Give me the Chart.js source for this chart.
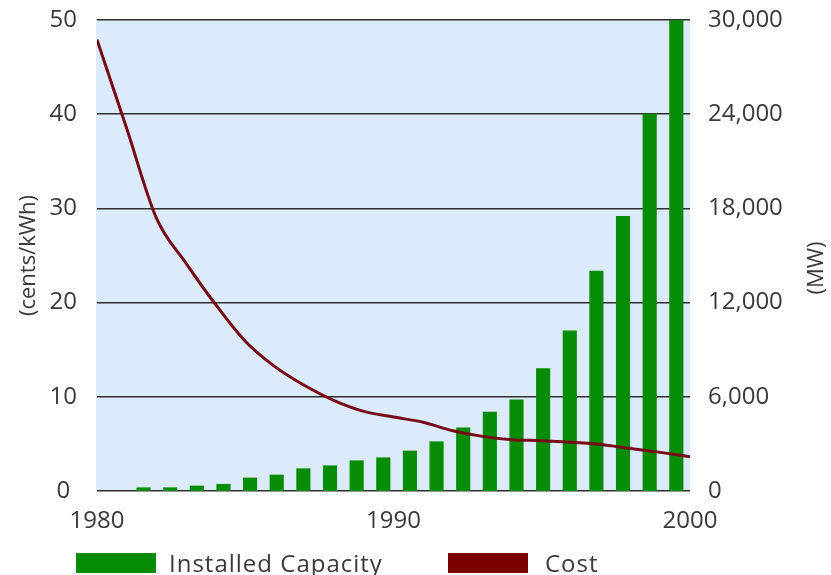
<!DOCTYPE html>
<html>
<head>
<meta charset="utf-8">
<script src="https://cdn.jsdelivr.net/npm/chart.js@4.4.0/dist/chart.umd.min.js"></script>
<style>
  html, body { margin: 0; padding: 0; background: #ffffff; }
  #wrap { width: 831px; height: 575px; }
</style>
</head>
<body>
<div id="wrap"><canvas id="chart" width="831" height="575"></canvas></div>
<script>
// Wind energy: cost of electricity (cents/kWh) vs. installed capacity (MW), 1980-2000
const costYears = [1980, 1981, 1982, 1983, 1984, 1985, 1986, 1987, 1988, 1989, 1990,
                   1991, 1992, 1993, 1994, 1995, 1996, 1997, 1998, 1999, 2000];
const costCents = [47.9, 38.5, 29.0, 24.2, 19.8, 15.9, 13.2, 11.2, 9.6, 8.45, 7.85,
                   7.3, 6.4, 5.8, 5.45, 5.34, 5.17, 4.93, 4.5, 4.1, 3.64];

const capacityYears = [1980, 1981, 1982, 1983, 1984, 1985, 1986, 1987, 1988, 1989, 1990,
                       1991, 1992, 1993, 1994, 1995, 1996, 1997, 1998, 1999, 2000];
const capacityMW = [210, 210, 320, 430, 830, 1020, 1420, 1610, 1930, 2120, 2550,
                    3140, 4030, 5030, 5800, 7800, 10200, 14000, 17500, 24000, 30000];

const yearTicks = [1980, 1990, 2000];
const costTicks = [0, 10, 20, 30, 40, 50];
const capacityTicks = [0, 6000, 12000, 18000, 24000, 30000];

const seriesLabels = ['Installed Capacity', 'Cost'];

const FONT = "'Open Sans', 'DejaVu Sans', sans-serif";
const TEXT = '#3a3a3a';

// Plot background, right-hand axis title and the legend row
const chartDecor = {
  id: 'chartDecor',
  beforeDraw(chart, args, opts) {
    const { ctx, chartArea: a } = chart;
    ctx.save();
    ctx.fillStyle = opts.plotColor;
    ctx.fillRect(a.left - 1, a.top, a.right - a.left + 1, a.bottom - a.top);
    ctx.restore();
  },
  afterDraw(chart, args, opts) {
    const { ctx } = chart;
    ctx.save();
    ctx.fillStyle = TEXT;
    ctx.font = opts.titleFont;
    ctx.textAlign = 'center';
    ctx.textBaseline = 'middle';
    ctx.translate(opts.rightTitleX, opts.rightTitleY);
    ctx.rotate(-Math.PI / 2);
    ctx.fillText(opts.rightTitle, 0, 0);
    ctx.restore();

    ctx.save();
    ctx.font = opts.legendFont;
    ctx.textAlign = 'left';
    ctx.textBaseline = 'alphabetic';
    chart.data.datasets.forEach((ds, i) => {
      const x = opts.legendX[i];
      ctx.fillStyle = ds.legendColor;
      ctx.fillRect(x, opts.legendTop, opts.boxWidth, opts.boxHeight);
      ctx.fillStyle = TEXT;
      if ('letterSpacing' in ctx) ctx.letterSpacing = '1px';
      ctx.fillText(ds.label, x + opts.boxWidth + opts.textGap[i], opts.legendBaseline);
    });
    ctx.restore();
  }
};

// Fixed axis band widths; tick labels may overhang the plot edges
const fitVertical = width => s => {
  s.width = width;
  s.paddingTop = 0;
  s.paddingBottom = 0;
};

new Chart(document.getElementById('chart'), {
  data: {
    datasets: [
      {
        type: 'bar',
        label: seriesLabels[0],
        data: capacityYears.map((yr, i) => ({ x: yr, y: capacityMW[i] })),
        xAxisID: 'xBar',
        yAxisID: 'yMW',
        backgroundColor: '#078c07',
        legendColor: '#078c07',
        barThickness: 13.5,
        borderWidth: 0,
        order: 1
      },
      {
        type: 'line',
        label: seriesLabels[1],
        data: costYears.map((yr, i) => ({ x: yr, y: costCents[i] })),
        xAxisID: 'x',
        yAxisID: 'y',
        borderColor: '#780a18',
        legendColor: '#7b0000',
        borderWidth: 3,
        pointRadius: 0,
        cubicInterpolationMode: 'monotone',
        fill: false,
        order: 0
      }
    ]
  },
  options: {
    responsive: false,
    animation: false,
    devicePixelRatio: 1,
    layout: { padding: { top: 20, bottom: 40, left: 0, right: 0 } },
    scales: {
      x: {
        type: 'linear',
        position: 'bottom',
        offset: false,
        min: 1980,
        max: 2000,
        afterBuildTicks: s => { s.ticks = yearTicks.map(v => ({ value: v })); },
        afterFit: s => { s.height = 44; s.paddingLeft = 0; s.paddingRight = 0; },
        grid: { display: false, drawTicks: false },
        border: { display: false },
        ticks: {
          padding: 16,
          color: TEXT,
          font: { family: FONT, size: 24 },
          maxRotation: 0,
          callback: v => String(v)
        }
      },
      xBar: {
        type: 'linear',
        display: false,
        offset: false,
        min: 1978,
        max: 2000.26
      },
      y: {
        type: 'linear',
        position: 'left',
        min: 0,
        max: 50,
        afterBuildTicks: s => { s.ticks = costTicks.map(v => ({ value: v })); },
        afterFit: fitVertical(97),
        grid: { color: '#2e2e2e', lineWidth: 1.6, drawTicks: false },
        border: { display: false },
        ticks: {
          padding: 20,
          crossAlign: 'center',
          color: TEXT,
          font: { family: FONT, size: 24 }
        },
        title: {
          display: true,
          text: '(cents/kWh)',
          color: TEXT,
          font: { family: FONT, size: 22 },
          padding: { top: 16, bottom: 0 }
        }
      },
      yMW: {
        type: 'linear',
        position: 'right',
        min: 0,
        max: 30000,
        afterBuildTicks: s => { s.ticks = capacityTicks.map(v => ({ value: v })); },
        afterFit: fitVertical(141),
        grid: { display: false, drawTicks: false },
        border: { display: false },
        ticks: {
          padding: 18,
          color: TEXT,
          font: { family: FONT, size: 24 },
          callback: v => v.toLocaleString('en-US')
        }
      }
    },
    plugins: {
      legend: { display: false },
      tooltip: { enabled: false },
      chartDecor: {
        plotColor: '#dcebfb',
        rightTitle: '(MW)',
        rightTitleX: 817,
        rightTitleY: 268,
        titleFont: "22px " + FONT,
        legendFont: "24px " + FONT,
        legendX: [76, 448],
        legendTop: 553,
        boxWidth: 80,
        boxHeight: 20,
        textGap: [13, 17],
        legendBaseline: 572
      }
    }
  },
  plugins: [chartDecor]
});
</script>
</body>
</html>
